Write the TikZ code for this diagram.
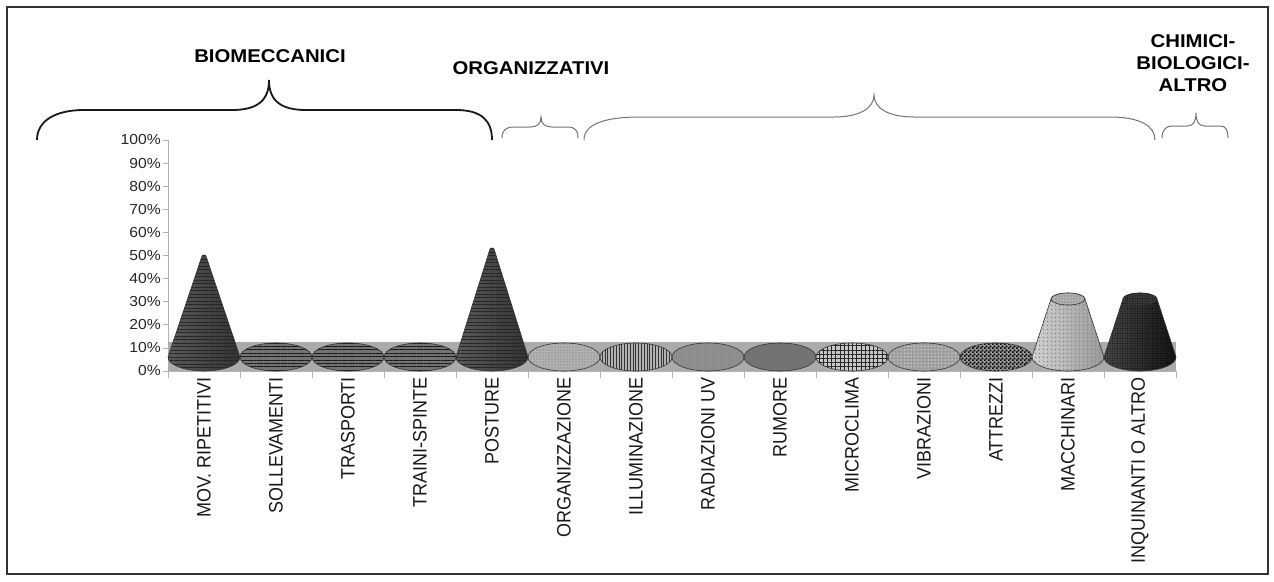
\documentclass[tikz,border=0pt]{standalone}
\usepackage{fontspec}
\setmainfont{Liberation Sans}
\usetikzlibrary{patterns,patterns.meta}
\pgfdeclarepatternformonly{finecheck}{\pgfpointorigin}{\pgfpoint{4pt}{4pt}}{\pgfpoint{4pt}{4pt}}{%
  \pgfpathrectangle{\pgfpointorigin}{\pgfpoint{2.1pt}{2.1pt}}%
  \pgfpathrectangle{\pgfpoint{2pt}{2pt}}{\pgfpoint{2.1pt}{2.1pt}}%
  \pgfusepath{fill}}
\newcommand\mycone[2]{(#1-36,357) -- (#1-2,#2+3) arc[start angle=180,end angle=0,x radius=2pt,y radius=1pt] -- (#1+36,357) arc[start angle=0,end angle=-180,x radius=36pt,y radius=14pt] -- cycle}
\newcommand\mytrunc[1]{(#1-17,299) -- (#1-36,357) arc[start angle=180,end angle=360,x radius=36pt,y radius=14pt] -- (#1+17,299) arc[start angle=0,end angle=180,x radius=17pt,y radius=6pt] -- cycle}
\begin{document}
\begin{tikzpicture}[x=1pt,y=-1pt,
  lab/.style={font=\fontsize{18}{20}\selectfont, rotate=90, anchor=east, inner sep=0pt, text=black!90},
  ticklab/.style={font=\fontsize{14.5}{16}\selectfont, anchor=east, inner sep=0pt, text=black!85},
  ttl/.style={font=\bfseries\fontsize{18.5}{22}\selectfont, align=center, inner sep=0pt},
  bbrace/.style={line width=1.8pt, black!90},
  gbrace/.style={line width=1pt, black!55},
  ax/.style={draw=black!30, line width=0.8pt},
  ell/.style={draw=black!80, line width=0.6pt},
]
\useasboundingbox (0,0) rectangle (1274,581);
\draw[line width=1.6pt, black!80] (7,7) rectangle (1268,574);

% titles
\node[ttl] (t1) at (270,56) {\scalebox{1.1}[1]{BIOMECCANICI}};
\node[ttl] (t2) at (531,68) {\scalebox{1.1}[1]{ORGANIZZATIVI}};
\node[ttl] (t3) at (1193,63) {\scalebox{1.1}[1]{CHIMICI-}\\\scalebox{1.1}[1]{BIOLOGICI-}\\\scalebox{1.1}[1]{ALTRO}};

% braces
\draw[bbrace] (37,140) .. controls (37,121) and (55,110) .. (84,110) -- (232,110) .. controls (258,110) and (269,100) .. (269,80) .. controls (269,100) and (280,110) .. (306,110) -- (456,110) .. controls (482,110) and (492,121) .. (492,140);
\draw[gbrace] (502,138) .. controls (502,130) and (506,127) .. (514,127) -- (530,127) .. controls (537,127) and (541,124) .. (541,117) .. controls (541,124) and (545,127) .. (552,127) -- (567,127) .. controls (575,127) and (578,130) .. (578,138);
\draw[gbrace] (584,140) .. controls (584,124) and (605,117) .. (640,117) -- (834,117) .. controls (860,117) and (874,108) .. (874,95) .. controls (874,108) and (888,117) .. (914,117) -- (1110,117) .. controls (1140,117) and (1155,126) .. (1155,140);
\draw[gbrace] (1162,138) .. controls (1162,130) and (1166,126) .. (1172,126) -- (1187,126) .. controls (1193,126) and (1196,122) .. (1196,113) .. controls (1196,122) and (1199,126) .. (1205,126) -- (1220,126) .. controls (1226,126) and (1228,130) .. (1228,138);

% y axis
\draw[ax] (168,140) -- (168,371);
\foreach \k in {0,...,10}{
  \draw[ax] (163,371-23.1*\k) -- (168,371-23.1*\k);
  \pgfmathtruncatemacro\v{10*\k}
  \node[ticklab] (y\k) at (161,371-23.1*\k) {\scalebox{1.08}[1]{\v\%}};
}

% floor
\fill[black!33] (168,342) rectangle (1176,371);
\draw[ax] (168,371) -- (1176,371);
\foreach \i in {0,...,14}{
  \draw[ax] (168+72*\i,371) -- (168+72*\i,378);
}

% flat ellipses
\foreach \i in {1,2,3}{
  \path[ell, preaction={fill=black!55}, pattern={Lines[angle=0,distance=3.4pt,line width=0.9pt]}, pattern color=black!90] (204+72*\i,357) ellipse[x radius=36pt, y radius=14pt];
}
\path[ell, preaction={fill=black!30}, pattern={Dots[distance=3pt,radius=0.6pt]}, pattern color=black!55] (564,357) ellipse[x radius=36pt, y radius=14pt];
\path[ell, preaction={fill=black!30}, pattern={Lines[angle=90,distance=2.8pt,line width=0.6pt]}, pattern color=black!80] (636,357) ellipse[x radius=36pt, y radius=14pt];
\path[ell, preaction={fill=black!40}, pattern={Dots[distance=2pt,radius=0.5pt]}, pattern color=black!70] (708,357) ellipse[x radius=36pt, y radius=14pt];
\path[ell, fill=black!55] (780,357) ellipse[x radius=36pt, y radius=14pt];
\path[ell, preaction={fill=black!22}, pattern={Hatch[angle=0,distance=4.2pt,line width=0.7pt]}, pattern color=black!85] (852,357) ellipse[x radius=36pt, y radius=14pt];
\path[ell, preaction={fill=black!38}, pattern={Dots[distance=3.4pt,radius=0.8pt]}, pattern color=black!18] (924,357) ellipse[x radius=36pt, y radius=14pt];
\path[ell, preaction={fill=black!40}, pattern=finecheck, pattern color=black] (996,357) ellipse[x radius=36pt, y radius=14pt];

% cones
\shade[left color=black!65, middle color=black!25, right color=black!80] \mycone{204}{253};
\path[ell, pattern={Lines[angle=0,distance=3.5pt,line width=0.9pt]}, pattern color=black!85] \mycone{204}{253};
\shade[left color=black!65, middle color=black!25, right color=black!80] \mycone{492}{246};
\path[ell, pattern={Lines[angle=0,distance=3.5pt,line width=0.9pt]}, pattern color=black!85] \mycone{492}{246};

% truncated cones
\shade[left color=black!18, middle color=white, right color=black!40] \mytrunc{1068};
\path[ell, pattern={Dots[distance=4pt,radius=0.7pt]}, pattern color=black!55] \mytrunc{1068};
\path[ell, preaction={fill=black!30}, pattern={Dots[distance=3pt,radius=0.6pt]}, pattern color=black!60] (1068,299) ellipse[x radius=17pt, y radius=6pt];
\shade[left color=black!72, middle color=black!80, right color=black!92] \mytrunc{1140};
\path[ell, pattern={Dots[distance=2.5pt,radius=0.5pt]}, pattern color=black] \mytrunc{1140};
\path[ell, preaction={fill=black!78}, pattern={Dots[distance=2.5pt,radius=0.5pt]}, pattern color=black] (1140,299) ellipse[x radius=17pt, y radius=6pt];

% category labels
\node[lab] (c0) at (204,377) {\scalebox{1}[1.08]{MOV. RIPETITIVI}};
\node[lab] (c1) at (276,377) {\scalebox{1}[1.08]{SOLLEVAMENTI}};
\node[lab] (c2) at (348,377) {\scalebox{1}[1.08]{TRASPORTI}};
\node[lab] (c3) at (420,377) {\scalebox{1}[1.08]{TRAINI-SPINTE}};
\node[lab] (c4) at (492,377) {\scalebox{1}[1.08]{POSTURE}};
\node[lab] (c5) at (564,377) {\scalebox{1}[1.08]{ORGANIZZAZIONE}};
\node[lab] (c6) at (636,377) {\scalebox{1}[1.08]{ILLUMINAZIONE}};
\node[lab] (c7) at (708,377) {\scalebox{1}[1.08]{RADIAZIONI UV}};
\node[lab] (c8) at (780,377) {\scalebox{1}[1.08]{RUMORE}};
\node[lab] (c9) at (852,377) {\scalebox{1}[1.08]{MICROCLIMA}};
\node[lab] (c10) at (924,377) {\scalebox{1}[1.08]{VIBRAZIONI}};
\node[lab] (c11) at (996,377) {\scalebox{1}[1.08]{ATTREZZI}};
\node[lab] (c12) at (1068,377) {\scalebox{1}[1.08]{MACCHINARI}};
\node[lab] (c13) at (1140,377) {\scalebox{1}[1.08]{INQUINANTI O ALTRO}};
\end{tikzpicture}
\end{document}
